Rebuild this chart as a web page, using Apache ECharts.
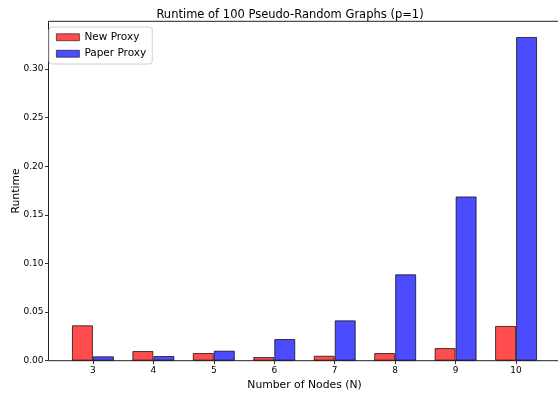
<!DOCTYPE html>
<html>
<head>
<meta charset="utf-8">
<script src="https://cdn.jsdelivr.net/npm/echarts@6/dist/echarts.min.js"></script>
<style>html,body{margin:0;padding:0;background:#fff;}#c{width:558px;height:395px;}</style>
</head>
<body>
<div id="c"></div>
<script>
const nodes = [3, 4, 5, 6, 7, 8, 9, 10];
const newProxy = [0.0364, 0.0100, 0.0079, 0.0038, 0.0051, 0.0079, 0.0130, 0.0357];
const paperProxy = [0.0045, 0.0048, 0.0103, 0.0223, 0.0415, 0.0888, 0.1689, 0.3329];
const yTicks = [0, 0.05, 0.10, 0.15, 0.20, 0.25, 0.30];

const font = 'DejaVu Sans';
const chart = echarts.init(document.getElementById('c'), null, {renderer: 'canvas'});
chart.setOption({
  animation: false,
  backgroundColor: '#fff',
  title: {
    text: 'Runtime of 100 Pseudo-Random Graphs (p=1)',
    left: 285, top: 4, textAlign: 'center',
    textStyle: {fontFamily: font, fontSize: 11.5, fontWeight: 'normal', color: '#000'}
  },
  legend: {
    orient: 'vertical', left: 49, top: 27,
    padding: [4, 6, 4, 7],
    itemWidth: 23, itemHeight: 7, itemGap: 4,
    borderColor: '#d0d0d0', borderWidth: 1, borderRadius: 3,
    backgroundColor: 'rgba(255,255,255,0.8)',
    itemStyle: {borderWidth: 0.8},
    textStyle: {fontFamily: font, fontSize: 10.5, color: '#000', lineHeight: 12.5},
    data: [{name: 'New Proxy', icon: 'rect'}, {name: 'Paper Proxy', icon: 'rect'}]
  },
  grid: {left: 48.5, top: 21.3, width: 512, height: 339.4, outerBoundsMode: 'none', containLabel: false,
    show: true, borderColor: '#222', borderWidth: 1, backgroundColor: 'transparent'},
  xAxis: {
    type: 'value', min: 2.265, max: 10.735,
    name: 'Number of Nodes (N)', nameLocation: 'middle', nameGap: 18.5, nameMoveOverlap: false,
    nameTextStyle: {fontFamily: font, fontSize: 10.8, color: '#000'},
    axisLine: {show: false},
    axisTick: {show: true, length: 3.5, lineStyle: {color: '#000', width: 0.8}, customValues: nodes},
    axisLabel: {fontFamily: font, fontSize: 9, color: '#000', margin: 5, customValues: nodes,
      formatter: v => String(Math.round(v))},
    splitLine: {show: false}
  },
  yAxis: {
    type: 'value', min: 0, max: 0.349,
    name: 'Runtime', nameLocation: 'middle', nameGap: 27, nameRotate: 90, nameMoveOverlap: false,
    nameTextStyle: {fontFamily: font, fontSize: 10.8, color: '#000'},
    axisLine: {show: false},
    axisTick: {show: true, length: 3.5, lineStyle: {color: '#000', width: 0.8}, customValues: yTicks},
    axisLabel: {fontFamily: font, fontSize: 9, color: '#000', margin: 5, customValues: yTicks,
      formatter: v => v.toFixed(2)},
    splitLine: {show: false}
  },
  series: [
    {
      name: 'New Proxy', type: 'bar', barWidth: 21, barGap: '0%',
      itemStyle: {color: 'rgba(255,0,0,0.7)', borderColor: 'rgba(0,0,0,0.7)', borderWidth: 1},
      data: nodes.map((n, i) => [n, newProxy[i]])
    },
    {
      name: 'Paper Proxy', type: 'bar', barWidth: 21, barGap: '0%',
      itemStyle: {color: 'rgba(0,0,255,0.7)', borderColor: 'rgba(0,0,0,0.7)', borderWidth: 1},
      data: nodes.map((n, i) => [n, paperProxy[i]])
    }
  ]
});
</script>
</body>
</html>
